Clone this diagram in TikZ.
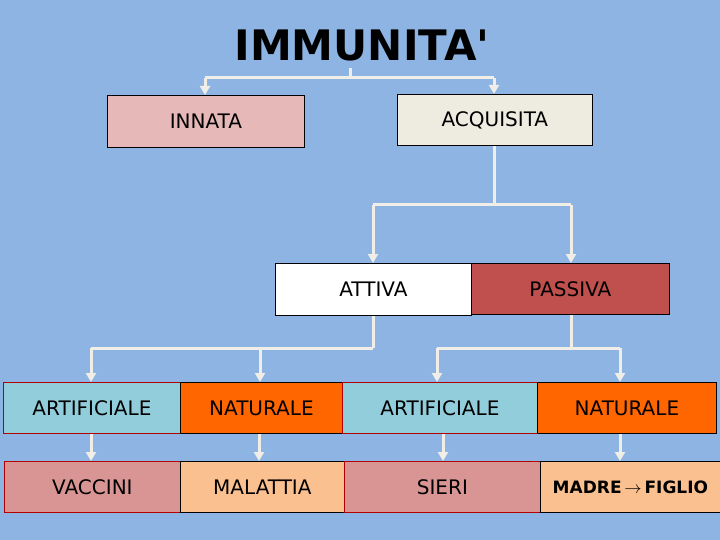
\documentclass[tikz,border=0pt]{standalone}
\usepackage{fontspec}
\setmainfont{DejaVu Sans}
\newfontfamily\tf{DejaVu Sans}
\usetikzlibrary{arrows.meta}
\definecolor{bg}{HTML}{8EB4E3}
\definecolor{ln}{HTML}{F0EEE6}
\definecolor{pinkA}{HTML}{E6B9B8}
\definecolor{cream}{HTML}{EEECE1}
\definecolor{redB}{HTML}{C0504D}
\definecolor{lblue}{HTML}{92CDDC}
\definecolor{orng}{HTML}{FF6600}
\definecolor{rose}{HTML}{D99594}
\definecolor{peach}{HTML}{FAC090}
\tikzset{
 bx/.style={draw=#1, line width=0.8pt, inner sep=0pt, anchor=north west},
 lab/.style={font=\fontsize{20}{24}\selectfont},
 conn/.style={draw=ln, line width=3pt},
 arr/.style={conn, -{Triangle[length=9pt,width=10pt]}},
}
\begin{document}
\begin{tikzpicture}[x=1pt,y=-1pt]
\fill[bg] (0,0) rectangle (720,540);
\useasboundingbox (0,0) rectangle (720,540);
\node[font=\tf\bfseries\fontsize{42}{46}\selectfont] (title) at (362,45) {IMMUNITA'};
\newcommand{\boxnode}[7]{\node[bx=#6, fill=#5, minimum width=#3pt, minimum height=#4pt] (#1) at (#2) {};\node[lab] at (#1.center) {#7};}
\boxnode{inn}{107,95}{197}{52}{pinkA}{black}{INNATA}
\boxnode{acq}{397,94}{195}{51}{cream}{black}{ACQUISITA}
\boxnode{att}{275,263}{196}{52}{white}{black}{ATTIVA}
\boxnode{pas}{471,263}{198}{51}{redB}{black}{PASSIVA}
\boxnode{a1}{3,382}{177}{51}{lblue}{red!70!black}{ARTIFICIALE}
\boxnode{n1}{180,382}{162}{51}{orng}{black}{NATURALE}
\boxnode{a2}{342,382}{195}{51}{lblue}{red!70!black}{ARTIFICIALE}
\boxnode{n2}{537,382}{179}{51}{orng}{black}{NATURALE}
\boxnode{v}{4,461}{176}{51}{rose}{red!70!black}{VACCINI}
\boxnode{m}{180,461}{164}{51}{peach}{black}{MALATTIA}
\boxnode{s}{344,461}{196}{51}{rose}{red!70!black}{SIERI}
\node[bx=black, fill=peach, minimum width=180pt, minimum height=51pt] (mf) at (540,461) {};
\node[font=\bfseries\fontsize{17}{20}\selectfont] at (mf.center) {MADRE\,$\mathbf{\rightarrow}$\,FIGLIO};
% connectors
\coordinate (t0) at (350,68); \coordinate (t1) at (205,78); \coordinate (t2) at (494,78);
\draw[conn] (t0) -- (350,78);
\draw[conn] (t1) -- (t2);
\draw[arr] (t1) -- (inn.north -| t1);
\draw[arr] (t2) -- (acq.north -| t2);
\coordinate (q0) at (494,205); \coordinate (q1) at (373,205); \coordinate (q2) at (571,205);
\draw[conn] (acq.south -| q0) -- (q0);
\draw[conn] (q1) -- (q2);
\draw[arr] (q1) -- (att.north -| q1);
\draw[arr] (q2) -- (pas.north -| q2);
\coordinate (r0) at (373,348); \coordinate (r1) at (91,348); \coordinate (r2) at (260,348);
\draw[conn] (att.south -| r0) -- (r0);
\draw[conn] (r1) -- (r0);
\draw[arr] (r1) -- (a1.north -| r1);
\draw[arr] (r2) -- (n1.north -| r2);
\coordinate (p0) at (571,348); \coordinate (p1) at (437,348); \coordinate (p2) at (620,348);
\draw[conn] (pas.south -| p0) -- (p0);
\draw[conn] (p1) -- (p2);
\draw[arr] (p1) -- (a2.north -| p1);
\draw[arr] (p2) -- (n2.north -| p2);
\coordinate (c1) at (91,0); \coordinate (c2) at (259,0); \coordinate (c3) at (443,0); \coordinate (c4) at (620,0);
\draw[arr] (a1.south -| c1) -- (v.north -| c1);
\draw[arr] (n1.south -| c2) -- (m.north -| c2);
\draw[arr] (a2.south -| c3) -- (s.north -| c3);
\draw[arr] (n2.south -| c4) -- (mf.north -| c4);
\end{tikzpicture}
\end{document}
